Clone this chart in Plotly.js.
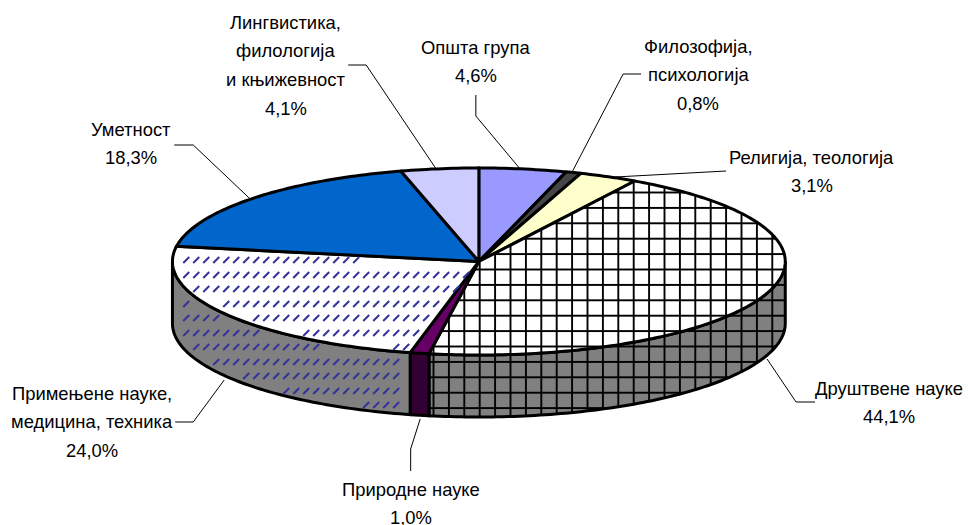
<!DOCTYPE html>
<html><head><meta charset="utf-8">
<script src="https://cdn.plot.ly/plotly-3.0.1.min.js"></script>
<style>html,body{margin:0;padding:0;background:#fff}#c{width:968px;height:525px}</style>
</head><body><div id="c"></div>
<script>
const categories = ["Општа група","Филозофија, психологија","Религија, теологија","Друштвене науке","Природне науке","Примењене науке, медицина, техника","Уметност","Лингвистика, филологија и књижевност"];
const values = [4.6,0.8,3.1,44.1,1.0,24.0,18.3,4.1];
const topColors = ["#9999FF","#444444","#FFFFCC","#FFFFFF","#660066","#FFFFFF","#0066CC","#CCCCFF"];
const sideColors = ["#808080","#808080","#808080","#808080","#330033","#808080","#808080","#808080"];
const labelLines = [["Општа група"],["Филозофија,","психологија"],["Религија, теологија"],["Друштвене науке"],["Природне науке"],["Примењене науке,","медицина, техника"],["Уметност"],["Лингвистика,","филологија","и књижевност"]];
const labelX = [475.7,698,811.5,888.5,411,92,131,285.5];
const labelY = [47,46,157,388,489,393,129,22];
const lineStep = 28.7;
const leaderX = [[475.7,475.7,520],[641,623,572],[726,706,615],[815,796,767],[410.5,410.5,420],[175,193,224],[174,193,250],[348,366,436]];
const leaderY = [[95,116,169],[74,74,172],[171,172,177],[402,402,359],[471,449,419],[422,422,380],[145,145,199],[65,65,169]];

const cx=478.7, cy=261.5, a=306.5, b=93.5, depth=62;
const W=968,H=525, mL=9.7, mT=0;
const HATCH_SLICE=5, GRID_SLICE=3;
const total=values.reduce((s,v)=>s+v,0);
const pt=(t,dy=0)=>[cx+a*Math.sin(t*Math.PI/180), cy-b*Math.cos(t*Math.PI/180)+dy];
function arc(t1,t2,dy=0){const n=Math.max(2,Math.ceil(Math.abs(t2-t1)/1));const r=[];for(let i=0;i<=n;i++)r.push(pt(t1+(t2-t1)*i/n,dy));return r;}
const bounds=[];let acc=0;values.forEach(v=>{bounds.push([acc,acc+v/total*360]);acc+=v/total*360;});

const gridPattern=bg=>({shape:'+',size:15.4,solidity:0.23,fgcolor:'#000000',bgcolor:bg,fillmode:'replace'});
const traces=[];
function poly(points,fill,pattern){
  const c=points.concat([points[0]]);
  const tr={x:c.map(p=>p[0]),y:c.map(p=>p[1]),mode:'lines',fill:'toself',fillcolor:fill,line:{color:'#000',width:3,simplify:false},hoverinfo:'skip'};
  if(pattern) tr.fillpattern=pattern;
  traces.push(tr);
}
function inside(p,poly){let c=false;for(let i=0,j=poly.length-1;i<poly.length;j=i++){const A=poly[i],B=poly[j];if((A[1]>p[1])!==(B[1]>p[1])&&p[0]<(B[0]-A[0])*(p[1]-A[1])/(B[1]-A[1])+A[0])c=!c;}return c;}

categories.forEach((c,i)=>traces.push({x:leaderX[i],y:leaderY[i],mode:'lines',line:{color:'#000',width:1},hoverinfo:'skip'}));

const hatchPolys=[];
bounds.forEach((bd,i)=>{
  const t1=Math.max(bd[0],90), t2=Math.min(bd[1],270);
  if(t2<=t1) return;
  const P=arc(t1,t2,0).concat(arc(t2,t1,depth));
  poly(P,sideColors[i], i===GRID_SLICE?gridPattern('#808080'):null);
  if(i===HATCH_SLICE) hatchPolys.push(P);
});
bounds.forEach((bd,i)=>{
  const P=[[cx,cy]].concat(arc(bd[0],bd[1]));
  poly(P,topColors[i], i===GRID_SLICE?gridPattern('#FFFFFF'):null);
  if(i===HATCH_SLICE) hatchPolys.push(P);
});
const hx=[],hy=[];
const rowStep=14.5,colStep=10,dash=3;
for(let r=0;r<11;r++){const y=Math.round(260+r*rowStep);for(let x=176;x<470;x+=colStep){
  const ok=hatchPolys.some(P=>inside([x-dash-1,y+dash+1],P)&&inside([x+dash+1,y-dash-1],P));
  if(ok){hx.push(x-dash,x+dash,null);hy.push(y+dash,y-dash,null);}
}}
traces.push({x:hx,y:hy,mode:'lines',connectgaps:false,line:{color:'#333399',width:2,simplify:false},hoverinfo:'skip'});

const annotations=[];
const fmt=v=>v.toFixed(1).replace('.',',')+'%';
categories.forEach((c,i)=>{
  const lines=labelLines[i].concat([fmt(values[i])]);
  lines.forEach((t,k)=>annotations.push({x:labelX[i],y:labelY[i]+k*lineStep,xref:'x',yref:'y',text:t,showarrow:false,xanchor:'center',yanchor:'middle',font:{family:'"Liberation Sans",Arial,sans-serif',size:18.4,color:'#000'},borderpad:0}));
});
const layout={width:W,height:H,margin:{l:mL,r:0,t:mT,b:0,pad:0},paper_bgcolor:'#fff',plot_bgcolor:'#fff',showlegend:false,hovermode:false,
  xaxis:{range:[mL,W],visible:false,fixedrange:true},yaxis:{range:[H,mT],visible:false,fixedrange:true},annotations};
Plotly.newPlot('c',traces,layout,{displayModeBar:false,staticPlot:true});
</script></body></html>
